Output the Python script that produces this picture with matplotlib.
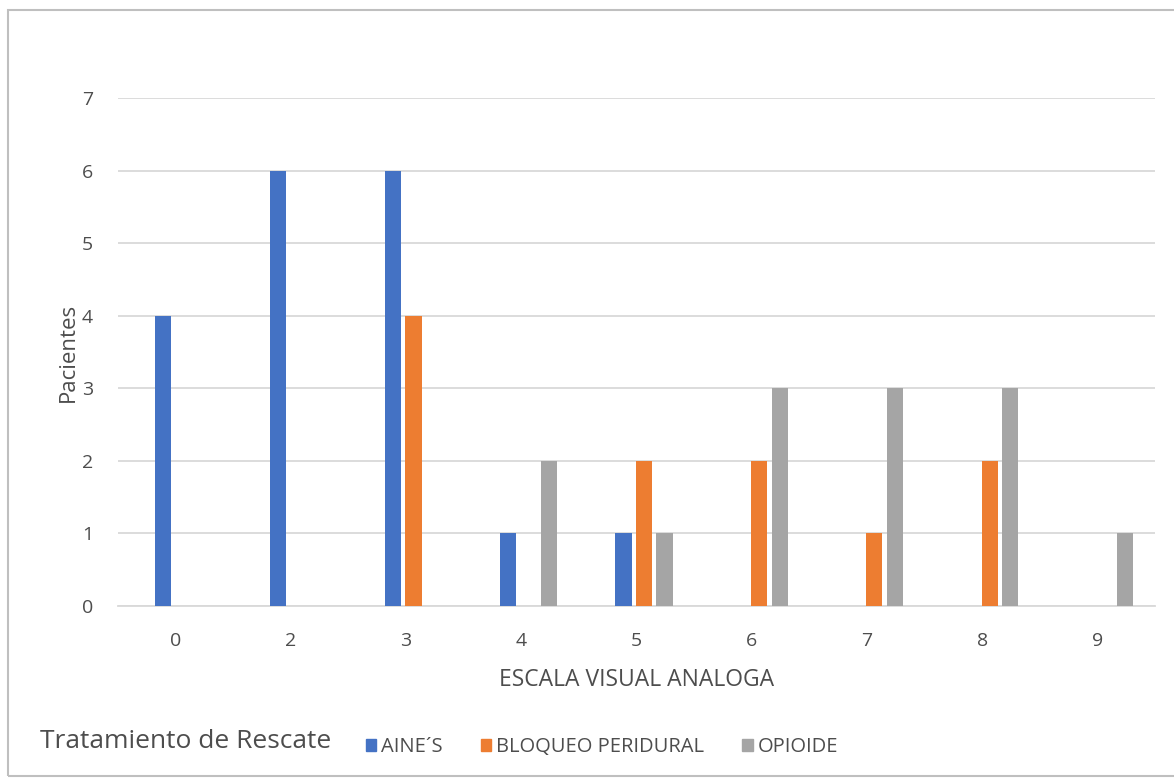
import matplotlib.pyplot as plt
from matplotlib.patches import Rectangle, Patch
import numpy as np

plt.rcParams['font.family'] = ['Open Sans', 'DejaVu Sans']

categorias = ['0', '2', '3', '4', '5', '6', '7', '8', '9']
aines = [4, 6, 6, 1, 1, 0, 0, 0, 0]
bloqueo = [0, 0, 4, 0, 2, 2, 1, 2, 0]
opioide = [0, 0, 0, 2, 1, 3, 3, 3, 1]

series = [('AINE´S', aines, '#4472C4'),
          ('BLOQUEO PERIDURAL', bloqueo, '#ED7D31'),
          ('OPIOIDE', opioide, '#A5A5A5')]

texto = '#4D4D4D'

fig = plt.figure(figsize=(11.74, 7.81), dpi=100)
ax = fig.add_axes([118 / 1174, 1 - 606 / 781, (1155 - 118) / 1174, (606 - 98) / 781])

x = np.arange(len(categorias))
ancho = 0.14
paso = 0.178
for i, (nombre, vals, color) in enumerate(series):
    ax.bar(x + 0.065 + (i - 1) * paso, vals, width=ancho, color=color, label=nombre, zorder=3)

ax.set_xlim(-0.5, len(categorias) - 0.5)
ax.set_ylim(0, 7)
ax.set_yticks(range(8))
ax.set_xticks(x)
ax.set_xticklabels(categorias)
ax.yaxis.grid(True, color='#D9D9D9', linewidth=1.3, zorder=0)
ax.tick_params(length=0, labelsize=14, labelcolor=texto)
ax.tick_params(axis='y', pad=18)
ax.tick_params(axis='x', pad=19)
for s in ['top', 'right', 'left']:
    ax.spines[s].set_visible(False)
ax.spines['bottom'].set_color('#D9D9D9')
ax.spines['bottom'].set_linewidth(1.3)

ax.set_xlabel('ESCALA VISUAL ANALOGA', fontsize=16.5, color=texto, labelpad=13)
ax.set_ylabel('Pacientes', fontsize=16, color=texto, labelpad=2)

fig.text(40 / 1174, 1 - 742 / 781, 'Tratamiento de Rescate', fontsize=19,
         color=texto, va='center', ha='left')
handles = [Patch(color=c, label=n) for n, _, c in series]
fig.legend(handles=handles, loc='center left', bbox_to_anchor=(348 / 1174, 1 - 747 / 781),
           ncol=3, frameon=False, fontsize=14.5, handlelength=0.5, handleheight=0.5,
           handletextpad=0.25, columnspacing=1.9, labelcolor=texto)

# marco exterior
fig.patches.append(Rectangle((8 / 1174, 1 - 776 / 781), 1.2, (776 - 10) / 781,
                             transform=fig.transFigure, fill=False,
                             edgecolor='#BFBFBF', linewidth=1.5))

fig.savefig('out.png', dpi=100)
